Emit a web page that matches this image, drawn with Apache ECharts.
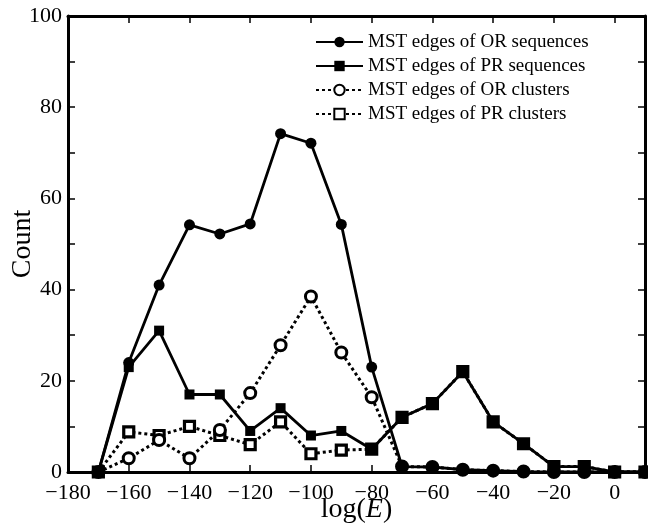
<!DOCTYPE html>
<html>
<head>
<meta charset="utf-8">
<script src="https://cdn.jsdelivr.net/npm/echarts@6/dist/echarts.min.js"></script>
<style>
html,body{margin:0;padding:0;background:#fff;}
#chart{width:648px;height:530px;}
</style>
</head>
<body>
<div id="chart"></div>
<script>
// Data
const logE = [-170, -160, -150, -140, -130, -120, -110, -100, -90, -80, -70, -60, -50, -40, -30, -20, -10, 0, 10];
const orSequences = [0, 24, 41, 54.2, 52.2, 54.4, 74.2, 72.1, 54.3, 23, 1.2, 1.1, 0.5, 0.3, 0.1, 0, 0, 0, 0];
const prSequences = [0, 23, 31, 17, 17, 9, 14, 8, 9, 5, 12, 15, 22, 11, 6.2, 1.2, 1.2, 0, 0];
const orClusters  = [0, 3, 7, 3, 9.2, 17.3, 27.8, 38.5, 26.2, 16.4, 1.2, 1.1, 0.5, 0.3, 0.1, 0, 0, 0, 0];
const prClusters  = [0, 8.8, 8, 10, 8, 6, 11, 4, 4.8, 5, 12, 15, 22, 11, 6.2, 1.2, 1.2, 0, 0];
const seriesNames = ['MST edges of OR sequences', 'MST edges of PR sequences', 'MST edges of OR clusters', 'MST edges of PR clusters'];

const pairs = (ys) => logE.map((x, i) => [x, ys[i]]);
const FONT = 'Liberation Serif';
const minus = (v) => String(v).replace('-', '\u2212');

const chart = echarts.init(document.getElementById('chart'), null, {renderer: 'canvas'});

const axisLineStyle = {color: '#000', width: 3};
const tickStyle = {color: '#000', width: 1.5};

const option = {
  animation: false,
  backgroundColor: '#fff',
  grid: {left: 68, right: 3, top: 16, bottom: 58, containLabel: false, outerBoundsMode: 'none'},
  legend: {
    orient: 'vertical',
    left: 315,
    top: 32,
    padding: 0,
    itemWidth: 47,
    itemHeight: 13,
    itemGap: 4,
    textStyle: {fontFamily: FONT, fontSize: 19, color: '#000', lineHeight: 20},
    data: seriesNames
  },
  xAxis: [{
    type: 'value', min: -180, max: 10, interval: 20, position: 'bottom',
    name: 'log({i|E})', nameLocation: 'middle', nameGap: 24, nameMoveOverlap: false,
    nameTextStyle: {fontFamily: FONT, fontSize: 28, color: '#000',
      rich: {i: {fontFamily: FONT, fontSize: 28, fontStyle: 'italic', color: '#000'}}},
    axisLine: {show: true, onZero: false, lineStyle: axisLineStyle},
    axisTick: {show: true, inside: true, length: 7, lineStyle: tickStyle},
    axisLabel: {fontFamily: FONT, fontSize: 22, color: '#000', margin: 10, showMaxLabel: false, formatter: minus},
    splitLine: {show: false}
  }, {
    type: 'value', min: -180, max: 10, interval: 20, position: 'top',
    axisLine: {show: true, onZero: false, lineStyle: axisLineStyle},
    axisTick: {show: true, inside: true, length: 7, lineStyle: tickStyle},
    axisLabel: {show: false},
    splitLine: {show: false}
  }],
  yAxis: [{
    type: 'value', min: 0, max: 100, interval: 20, position: 'left',
    name: 'Count', nameLocation: 'middle', nameGap: 31, nameMoveOverlap: false,
    nameTextStyle: {fontFamily: FONT, fontSize: 28, color: '#000'},
    axisLine: {show: true, onZero: false, lineStyle: axisLineStyle},
    axisTick: {show: true, inside: true, length: 7, lineStyle: tickStyle},
    minorTick: {show: true, splitNumber: 2, length: 7, lineStyle: tickStyle},
    axisLabel: {fontFamily: FONT, fontSize: 22, color: '#000', margin: 6},
    splitLine: {show: false}
  }, {
    type: 'value', min: 0, max: 100, interval: 20, position: 'right',
    axisLine: {show: true, onZero: false, lineStyle: axisLineStyle},
    axisTick: {show: true, inside: true, length: 7, lineStyle: tickStyle},
    minorTick: {show: true, splitNumber: 2, length: 7, lineStyle: tickStyle},
    axisLabel: {show: false},
    splitLine: {show: false}
  }],
  series: [
    {
      name: seriesNames[3], type: 'line', data: pairs(prClusters), clip: false,
      symbol: 'rect', symbolSize: 10,
      lineStyle: {color: '#000', width: 3, type: [3, 3]},
      itemStyle: {color: '#fff', borderColor: '#000', borderWidth: 3.2},
      z: 2
    },
    {
      name: seriesNames[2], type: 'line', data: pairs(orClusters), clip: false,
      symbol: 'circle', symbolSize: 11,
      lineStyle: {color: '#000', width: 3, type: [3, 3]},
      itemStyle: {color: '#fff', borderColor: '#000', borderWidth: 3},
      z: 3
    },
    {
      name: seriesNames[1], type: 'line', data: pairs(prSequences), clip: false,
      symbol: 'rect', symbolSize: 10,
      lineStyle: {color: '#000', width: 2.8},
      itemStyle: {color: '#000', borderColor: '#000', borderWidth: 0},
      z: 4
    },
    {
      name: seriesNames[0], type: 'line', data: pairs(orSequences), clip: false,
      symbol: 'circle', symbolSize: 11,
      lineStyle: {color: '#000', width: 2.8},
      itemStyle: {color: '#000', borderColor: '#000', borderWidth: 0},
      z: 5
    }
  ]
};
chart.setOption(option);
</script>
</body>
</html>
